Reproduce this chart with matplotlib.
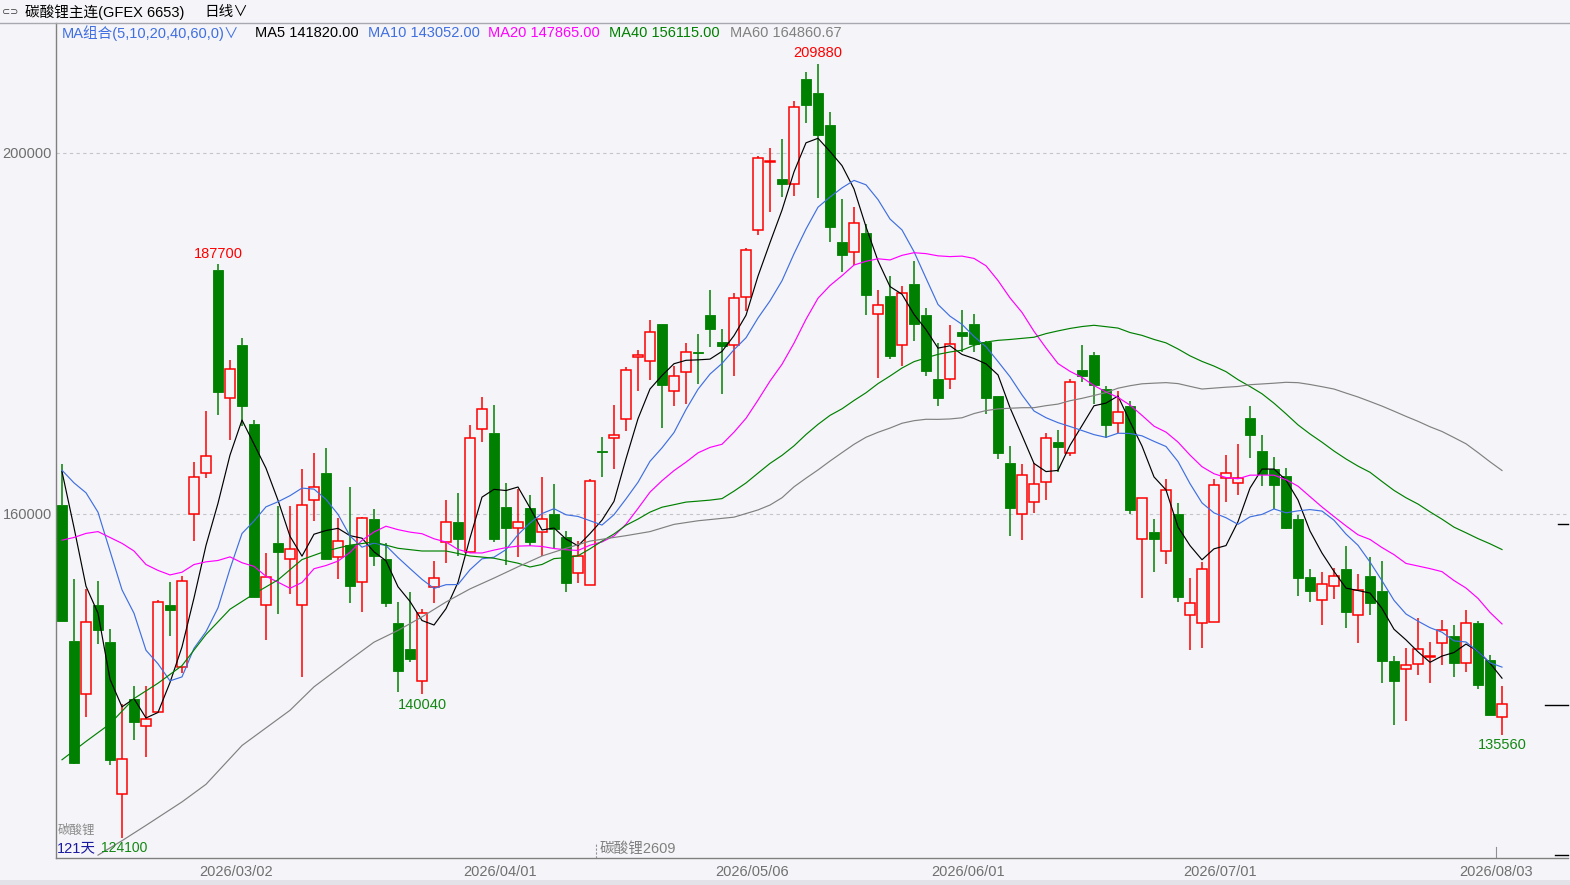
import matplotlib
matplotlib.use('Agg')
import matplotlib.pyplot as plt
import matplotlib.transforms as mtransforms
from matplotlib.patches import Rectangle
from matplotlib.lines import Line2D
import numpy as np
import pandas as pd

plt.rcParams['font.family'] = ['Liberation Sans', 'Noto Sans CJK SC', 'DejaVu Sans']

# ---------------- data ----------------
opens = [161000, 145900, 140100, 149950, 145850, 129000, 139550, 136500, 138050, 149950,
         143000, 160000, 164500, 187000, 172900, 178750, 170000, 149950, 156750, 155050,
         149950, 161500, 164500, 155250, 156550, 152450, 159500, 155050, 147950, 145050,
         141500, 151950, 156900, 159150, 155800, 169400, 169000, 160800, 158500, 160700,
         158050, 160000, 157500, 153450, 152100, 167000, 168450, 170550, 177450, 176950,
         181000, 173600, 175750, 178000, 182050, 179050, 178750, 184000, 191450, 199000,
         197150, 196600, 208150, 206600, 203050, 190100, 189050, 191100, 182150, 184200,
         178700, 185500, 182100, 174950, 174950, 180150, 181050, 179100, 173100, 165600,
         159950, 161350, 163500, 167950, 166750, 175950, 177600, 173850, 170100, 171950,
         157200, 158000, 155950, 160000, 148850, 147900, 148000, 164000, 163400, 170650,
         166950, 165000, 164200, 159500, 153050, 150500, 152000, 153900, 148850, 153100,
         151500, 143700, 142850, 143400, 144200, 145700, 146500, 143500, 147950, 143850,
         137500]
highs = [165500, 152800, 151700, 152600, 147300, 138900, 140950, 140950, 150500, 152450,
         153100, 165750, 171400, 187700, 177100, 179500, 170450, 155700, 160850, 160850,
         164950, 166750, 167300, 159550, 162950, 159700, 160500, 156750, 150300, 151400,
         149500, 154750, 161500, 162350, 169900, 173000, 172050, 163450, 162750, 162050,
         164100, 163350, 158100, 157000, 163850, 168500, 172050, 176250, 178200, 181500,
         181000, 176450, 178950, 179950, 184800, 180500, 184450, 189500, 199650, 200500,
         201600, 205750, 209000, 209880, 204550, 194950, 194000, 192100, 184850, 186350,
         185300, 188000, 182850, 178950, 180900, 182550, 182200, 179150, 173100, 167550,
         165500, 165600, 168950, 169300, 174950, 178750, 177950, 174200, 173650, 172550,
         161750, 159400, 163900, 161250, 152900, 154700, 163850, 166550, 167800, 171950,
         168800, 166300, 165150, 159900, 153900, 153550, 154050, 156450, 153400, 155200,
         154800, 144250, 145150, 148500, 145800, 148200, 147750, 149400, 148100, 144400,
         140900]
lows = [148100, 132300, 137500, 145550, 132200, 124100, 134950, 133100, 138000, 146500,
        142350, 157050, 164000, 171000, 168200, 169700, 150800, 146000, 148950, 151100,
        141900, 159250, 155000, 152800, 150100, 149100, 154250, 149650, 140300, 143600,
        140040, 150150, 154550, 155350, 155650, 167950, 156950, 154350, 155250, 156400,
        155350, 156200, 151350, 152300, 152100, 164100, 165000, 169200, 173600, 174850,
        169500, 171950, 172150, 174400, 178500, 173350, 175250, 182450, 190950, 193450,
        195100, 195200, 203350, 195000, 190100, 186800, 187600, 182000, 175050, 177150,
        176450, 179200, 175250, 172000, 173850, 177900, 178000, 171100, 166050, 157550,
        157100, 160150, 161500, 164700, 166450, 174650, 172200, 168400, 168950, 160050,
        150700, 153600, 154450, 150200, 144900, 145150, 148000, 161350, 162100, 166250,
        163100, 160600, 158300, 150950, 150200, 147700, 150600, 147400, 145700, 148850,
        141300, 136650, 137100, 142150, 141300, 143250, 141900, 142450, 140600, 137700,
        135560]
closes = [148150, 132400, 148000, 147150, 132750, 132850, 136950, 137300, 150200, 149350,
          152550, 164100, 166400, 173550, 176050, 171950, 150800, 153000, 155800, 156100,
          160950, 162950, 155050, 157000, 152050, 159550, 155400, 150100, 142600, 143900,
          149000, 152900, 159150, 157200, 168450, 171650, 157200, 158500, 159150, 156900,
          159400, 158300, 152400, 155350, 163700, 166850, 168700, 176000, 177550, 180150,
          174300, 175250, 177900, 177800, 180550, 178600, 183950, 189200, 199500, 199100,
          196600, 205150, 205300, 202000, 191800, 188750, 192250, 184300, 183150, 177550,
          184500, 181100, 175850, 172900, 178850, 179700, 178850, 172900, 166750, 160700,
          164350, 163300, 168400, 167400, 174600, 175250, 174300, 169900, 171300, 160400,
          161750, 157200, 162700, 150750, 150100, 153900, 163250, 164500, 164000, 168700,
          164450, 163250, 158400, 152950, 151500, 152250, 153100, 149150, 151600, 150100,
          143750, 141550, 143250, 145000, 144300, 147200, 143500, 147950, 141000, 137700,
          138900]

ma5_head = [164700, 158500, 152000, 149000]
ma10_head = [164850, 163450, 162350, 160200, 155900, 151600, 149000, 144900, 143400]
ma20_head = [157100, 157400, 157850, 158050, 157400, 156750, 155900, 154400, 153750, 153250,
             153550, 154400, 154700, 154850, 155250, 154600, 154200, 153100, 152450]
ma40_head_day = [1, 3, 5, 7, 9, 11, 13, 15, 17, 19, 21, 23, 25, 27, 29, 31, 33, 35, 37, 39]
ma40_head_val = [132770, 134800, 136750, 139550, 141250, 143200, 146650, 149450, 151150, 152700,
                 154950, 155900, 156550, 156900, 156200, 155900, 155900, 155350, 155100, 154550]
ma60_head_day = [4, 6, 8, 11, 13, 16, 20, 22, 25, 27, 29, 31, 33, 35, 37, 39, 41, 43, 45, 48,
                 50, 52, 54, 57, 59]
ma60_head_val = [122200, 123800, 125500, 128100, 130050, 134350, 138250, 140850, 143850, 145800,
                 147100, 148600, 150250, 151700, 152900, 154150, 155350, 156200, 157000, 157600,
                 158050, 158850, 159250, 159650, 160450]

ma_windows = [5, 10, 20, 40, 60]
ma_legend = ['MA5 141820.00', 'MA10 143052.00', 'MA20 147865.00', 'MA40 156115.00', 'MA60 164860.67']

ytick_vals = [160000, 200000]
date_labels = ['2026/03/02', '2026/04/01', '2026/05/06', '2026/06/01', '2026/07/01', '2026/08/03']
date_days = [16, 38, 59, 77, 98, 121]

high_marks = [(14, '187700'), (64, '209880')]
low_marks = [(31, '140040'), (121, '135560')]
bottom_low_mark = (6, '124100')
contract_change_day = 46
right_marks = [158900, 138850, 122200]

# ---------------- styling ----------------
W_PX, H_PX = 1570, 885
BG = '#F5F5F9'
RED = '#FF0000'
GREEN = '#008000'
MA_COLORS = ['#000000', '#3F6FE0', '#FF00FF', '#008000', '#808080']
AX_L, AX_R, AX_T, AX_B = 56, 1568, 23, 858

fig = plt.figure(figsize=(W_PX / 100, H_PX / 100), dpi=100, facecolor=BG)
ax = fig.add_axes([AX_L / W_PX, 1 - AX_B / H_PX, (AX_R - AX_L) / W_PX, (AX_B - AX_T) / H_PX])
ax.set_facecolor(BG)

n = len(closes)
x = np.arange(n)
o = np.array(opens, float)
h = np.array(highs, float)
l = np.array(lows, float)
c = np.array(closes, float)
up = c >= o
top = np.maximum(o, c)
bot = np.minimum(o, c)
body = np.maximum(top - bot, 120)
width = 0.84

# wicks
ax.vlines(x[up], top[up], h[up], color=RED, lw=1.1, zorder=2)
ax.vlines(x[up], l[up], bot[up], color=RED, lw=1.1, zorder=2)
ax.vlines(x[~up], top[~up], h[~up], color=GREEN, lw=1.1, zorder=2)
ax.vlines(x[~up], l[~up], bot[~up], color=GREEN, lw=1.1, zorder=2)
# bodies
ax.bar(x[up], body[up], bottom=bot[up], width=width, facecolor=BG, edgecolor=RED, lw=1.1, zorder=3)
ax.bar(x[~up], body[~up], bottom=bot[~up], width=width, facecolor=GREEN, edgecolor=GREEN, lw=0.6, zorder=3)

# moving averages
cs = pd.Series(closes, dtype=float)
heads = {
    5: (list(range(0, 4)), ma5_head),
    10: (list(range(0, 9)), ma10_head),
    20: (list(range(0, 19)), ma20_head),
    40: ([d - 1 for d in ma40_head_day], ma40_head_val),
    60: ([d - 1 for d in ma60_head_day], ma60_head_val),
}
for w, col in zip(ma_windows, MA_COLORS):
    roll = cs.rolling(w).mean()
    hx, hv = heads[w]
    xs = list(hx) + list(range(w - 1, n))
    ys = list(hv) + list(roll.values[w - 1:])
    ax.plot(xs, ys, color=col, lw=0.85, zorder=4)

# limits
def y_to_price(ypx):
    return 200000 - (ypx - 153) * 40000 / 361.0

ax.set_ylim(y_to_price(AX_B), y_to_price(AX_T))
ax.set_xlim(-0.5, -0.5 + (AX_R - AX_L) / 12.0)

# grid lines
for v in ytick_vals:
    ax.axhline(v, color='#C4C4CC', lw=0.8, ls=(0, (3, 3)), zorder=1)

ax.set_yticks(ytick_vals)
ax.set_yticklabels([str(v) for v in ytick_vals])
ax.set_xticks([d - 1.5 for d in date_days])
ax.set_xticklabels(date_labels)
ax.tick_params(axis='y', length=0, pad=3, labelsize=10.5, labelcolor='#6E6E6E')
ax.tick_params(axis='x', length=0, pad=5, labelsize=10.5, labelcolor='#707070')
for s in ['top', 'right']:
    ax.spines[s].set_visible(False)
for s in ['left', 'bottom']:
    ax.spines[s].set_color('#808080')
    ax.spines[s].set_linewidth(1.0)

# high / low marks
for d, t in high_marks:
    ax.annotate(t, xy=(d - 1, highs[d - 1]), xytext=(0, 2.5), textcoords='offset points',
                ha='center', va='bottom', color=RED, fontsize=10.5, zorder=6)
for d, t in low_marks:
    ax.annotate(t, xy=(d - 1, lows[d - 1]), xytext=(0, -2.5), textcoords='offset points',
                ha='center', va='top', color='#118811', fontsize=10.5, zorder=6)
blend = mtransforms.blended_transform_factory(ax.transData, ax.transAxes)
ax.text(bottom_low_mark[0] - 1 + 0.15, 0.003, bottom_low_mark[1], transform=blend, ha='center',
        va='bottom', color='#118811', fontsize=10, zorder=6)

# contract change marker
ax.plot([contract_change_day - 1.5] * 2, [0, 0.018], transform=blend, color='#909090',
        lw=0.8, ls=(0, (2, 1.5)), zorder=5)
ax.text(contract_change_day - 1.2, 0.003, '碳酸锂2609', transform=blend, ha='left', va='bottom',
        color='#808080', fontsize=10.5, zorder=6)
# current-day marker
ax.plot([date_days[-1] - 1.5] * 2, [0, 0.013], transform=blend, color='#909090', lw=0.8, zorder=5)

# right side short marks
rblend = mtransforms.blended_transform_factory(ax.transAxes, ax.transData)
for v, x0 in zip(right_marks, [0.9934, 0.9848, 0.9914]):
    ax.plot([x0, 1.0], [v, v], transform=rblend, color='#000000', lw=1.0, clip_on=False, zorder=5)

# bottom-left info text
ax.text(0.0005, 0.003, '121天', transform=ax.transAxes, ha='left', va='bottom', color='#1A1AA0',
        fontsize=10.5, zorder=7)
ax.text(0.001, 0.026, '碳酸锂', transform=ax.transAxes, ha='left', va='bottom', color='#8A8A8A',
        fontsize=9, zorder=6)

# ---------------- figure-level text / decoration ----------------
def fx(px):
    return px / W_PX

def fy(py):
    return 1 - py / H_PX

fig.add_artist(Line2D([0, 1], [fy(22.5), fy(22.5)], color='#A8A8B0', lw=1.0))
fig.add_artist(Rectangle((0, 0), 1, fy(880), transform=fig.transFigure, facecolor='#E2E2E8',
                         edgecolor='none'))

fig.text(fx(2), fy(12), '⊂⊃', fontsize=7, color='#404040', va='center', ha='left',
         family=['DejaVu Sans'])
fig.text(fx(25), fy(12), '碳酸锂主连(GFEX 6653)', fontsize=10.5, color='#000000', va='center', ha='left')
fig.text(fx(204), fy(12), '日线∨', fontsize=10.5, color='#000000', va='center', ha='left',
         family=['Noto Sans CJK SC', 'DejaVu Sans'])

fig.text(fx(62), fy(33), 'MA组合(5,10,20,40,60,0)∨', fontsize=10.5, color='#3F6FE0', va='center',
         ha='left', family=['Liberation Sans', 'Noto Sans CJK SC', 'DejaVu Sans'])
legend_x = [255, 368, 488, 609, 730]
for lx, t, col in zip(legend_x, ma_legend, MA_COLORS):
    fig.text(fx(lx), fy(33), t, fontsize=10.5, color=col, va='center', ha='left')

fig.savefig('out.png', dpi=100, facecolor=BG)
